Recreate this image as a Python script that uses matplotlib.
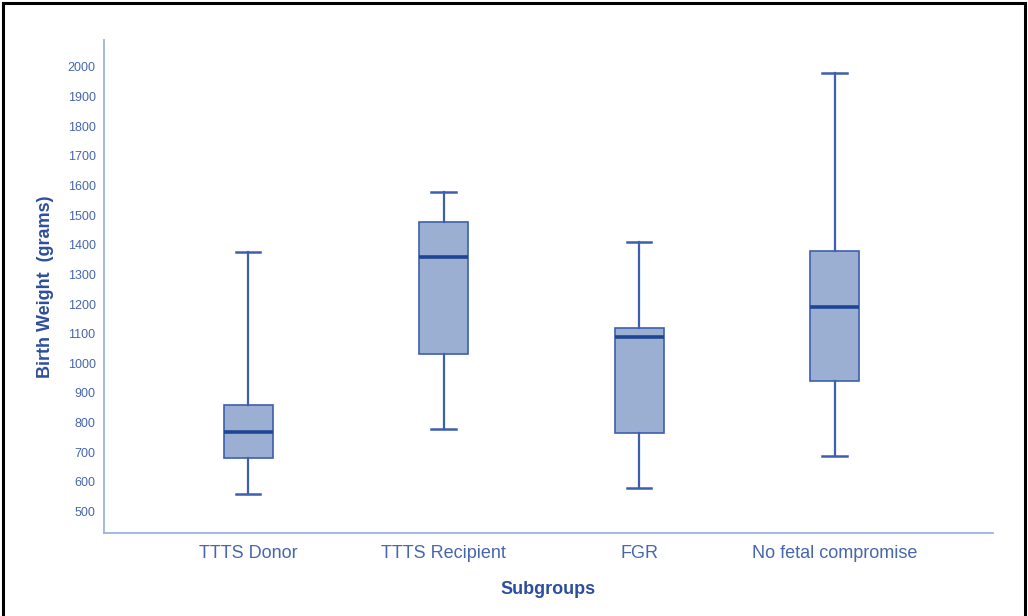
import matplotlib
matplotlib.use("Agg")
import matplotlib.pyplot as plt
from matplotlib.patches import Rectangle

categories = ["TTTS Donor", "TTTS Recipient", "FGR", "No fetal compromise"]
whisker_low = [560, 780, 579, 689]
q1 = [680, 1030, 764, 939]
median = [770, 1357, 1090, 1189]
q3 = [860, 1478, 1118, 1379]
whisker_high = [1376, 1579, 1408, 1979]
yticks = list(range(500, 2001, 100))

plt.rcParams['font.family'] = ['Liberation Sans', 'DejaVu Sans']

edge = "#3D5FAD"
fill = "#9BAFD3"
med_c = "#1E4594"
spine_c = "#9DB2DB"
tick_c = "#4666AD"
label_c = "#2D4E9E"

fig = plt.figure(figsize=(10.28, 6.16), dpi=100)
ax = fig.add_axes([104/1028, 1 - 533/616, (993-104)/1028, (533-40)/616])

stats = []
for i, c in enumerate(categories):
    stats.append(dict(label=c, whislo=whisker_low[i], q1=q1[i], med=median[i],
                      q3=q3[i], whishi=whisker_high[i], fliers=[]))

positions = list(range(1, len(categories) + 1))
ax.bxp(stats, positions=positions, widths=0.25, patch_artist=True, showfliers=False,
       boxprops=dict(facecolor=fill, edgecolor=edge, linewidth=1.2),
       whiskerprops=dict(color=edge, linewidth=1.6),
       capprops=dict(color=edge, linewidth=1.8),
       medianprops=dict(color=med_c, linewidth=2.6),
       capwidths=0.125)

ax.set_ylim(428, 2090)
ax.set_xlim(0.263, 4.81)
ax.set_yticks(yticks)
ax.set_xticks(positions)
ax.set_xticklabels(categories)
ax.tick_params(axis='y', length=0, pad=6, labelsize=9, labelcolor=tick_c)
ax.tick_params(axis='x', length=0, pad=9, labelsize=13, labelcolor=tick_c)

for s in ['top', 'right']:
    ax.spines[s].set_visible(False)
for s in ['left', 'bottom']:
    ax.spines[s].set_color(spine_c)
    ax.spines[s].set_linewidth(1.3)

ax.set_ylabel("Birth Weight  (grams)", fontsize=13, fontweight='bold', color=label_c, labelpad=10)
ax.set_xlabel("Subgroups", fontsize=13, fontweight='bold', color=label_c, labelpad=13)

fig.patches.append(Rectangle((3/1028, -0.05), 1022/1028, 1 - 3/616 + 0.05,
                             transform=fig.transFigure, fill=False,
                             edgecolor='black', linewidth=2.2))

fig.savefig("out.png", dpi=100)
